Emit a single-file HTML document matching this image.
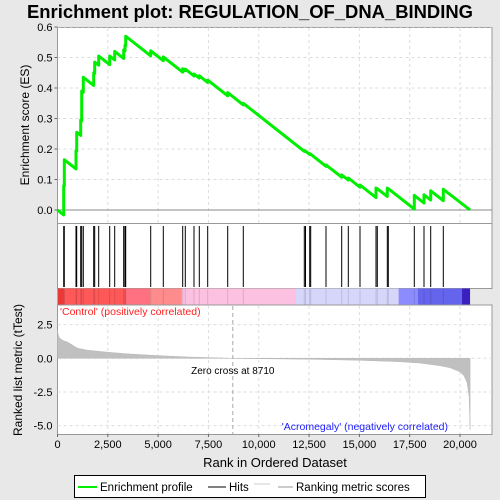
<!DOCTYPE html>
<html><head><meta charset="utf-8"><style>
html,body{margin:0;padding:0;background:#e8e8e8;}
svg{display:block;font-family:"Liberation Sans","DejaVu Sans",sans-serif;}
</style></head><body>
<svg id="chart" width="500" height="500" viewBox="0 0 500 500">
<rect x="0" y="0" width="500" height="500" fill="#e8e8e8"/>
<text x="250" y="18" text-anchor="middle" font-size="18" font-weight="bold" textLength="446" lengthAdjust="spacingAndGlyphs">Enrichment plot: REGULATION_OF_DNA_BINDING</text>
<g id="top"></g>
<g id="hits"></g>
<g id="bar"></g>
<g id="bottom"></g>
<text x="275" y="467" text-anchor="middle" font-size="13">Rank in Ordered Dataset</text>
<text transform="translate(29,125) rotate(-90)" text-anchor="middle" font-size="12">Enrichment score (ES)</text>
<text transform="translate(22,370) rotate(-90)" text-anchor="middle" font-size="12">Ranked list metric (tTest)</text>
<g>
<rect x="74.5" y="475.5" width="351" height="22" fill="#fff" stroke="#000"/>
<line x1="78" y1="487" x2="97" y2="487" stroke="#00ee00" stroke-width="2"/>
<text x="100" y="491" font-size="11.5">Enrichment profile</text>
<line x1="208" y1="487" x2="226" y2="487" stroke="#000" stroke-width="1"/>
<text x="229" y="491" font-size="11.5">Hits</text>
<line x1="254" y1="484" x2="270" y2="484" stroke="#ccc" stroke-width="1"/>
<line x1="278" y1="487" x2="293" y2="487" stroke="#bbb" stroke-width="1.5"/>
<text x="296" y="491" font-size="11.5">Ranking metric scores</text>
</g>
</svg>
<script>
const hitRanks=[308,338,919,954,1153,1203,1282,1799,1848,2047,2594,2842,3289,3354,3389,4631,5257,6221,6350,6783,7046,7463,8457,9232,12263,12323,12532,12581,13342,14122,14450,15031,15826,15891,16388,16437,17729,18211,18544,19170];
const esAfter=[0.08,0.165,0.195,0.255,0.295,0.39,0.435,0.45,0.485,0.505,0.505,0.52,0.525,0.54,0.57,0.522,0.502,0.463,0.462,0.446,0.44,0.426,0.385,0.35,0.195,0.193,0.185,0.183,0.148,0.115,0.105,0.082,0.072,0.07,0.072,0.07,0.048,0.05,0.063,0.068];
const metricRanks=[0,30,100,300,500,1000,1500,2500,3500,5000,6500,8710,10000,12500,15000,17000,18000,19000,19500,20000,20200,20350,20450,20500];
const metricVals=[2.1,1.8,1.5,1.3,1.2,0.75,0.6,0.45,0.33,0.2,0.1,0,-0.03,-0.07,-0.15,-0.25,-0.35,-0.55,-0.7,-1.0,-1.3,-1.8,-2.8,-5.3];
const xTicks=[0,2500,5000,7500,10000,12500,15000,17500,20000];
const xTickLabels=["0","2,500","5,000","7,500","10,000","12,500","15,000","17,500","20,000"];
const esTicks=[0,0.1,0.2,0.3,0.4,0.5,0.6];
const metricTicks=[2.5,0,-2.5,-5];
const metricTickLabels=["2.5","0.0","-2.5","-5.0"];
const totalRanks=20500, zeroCross=8710, esSlope=5.2e-5;

const NS="http://www.w3.org/2000/svg";
const L=57.5,R=492;
const x=r=>L+r*0.020125;
const yTop=v=>210-v*305;
const yBot=v=>358.3-v*13.47;
function mk(parent,tag,attrs){const e=document.createElementNS(NS,tag);for(const k in attrs)e.setAttribute(k,attrs[k]);document.getElementById(parent).appendChild(e);return e;}

let e=mk('top','rect',{x:L,y:27.5,width:R-L,height:196,fill:'#fff',stroke:'#999'});


xTicks.forEach((t,i)=>{if(i>0){let g=mk('top','line',{x1:x(t),x2:x(t),y1:28,y2:223,stroke:'#ddd','stroke-dasharray':'3,3'});

}});
esTicks.forEach(t=>{let g=mk('top','line',{x1:L,x2:R,y1:yTop(t),y2:yTop(t),stroke:t===0?'#888':'#ddd','stroke-dasharray':t===0?'':'3,3'});


let tx=mk('top','text',{x:L-5,y:yTop(t)+4,'text-anchor':'end','font-size':11});tx.textContent=t.toFixed(1);


mk('top','line',{x1:L-3,x2:L,y1:yTop(t),y2:yTop(t),stroke:'#666'});});
let pts=[[0,0]],prevR=0,prevV=0;
hitRanks.forEach((r,i)=>{pts.push([r,prevV-esSlope*(r-prevR)]);pts.push([r,esAfter[i]]);prevR=r;prevV=esAfter[i];});
pts.push([totalRanks,0]);
e=mk('top','polyline',{points:pts.map(p=>x(p[0]).toFixed(1)+','+yTop(p[1]).toFixed(1)).join(' '),fill:'none',stroke:'#00ee00','stroke-width':3,'stroke-linejoin':'round'});



e=mk('hits','rect',{x:L,y:223.5,width:R-L,height:65,fill:'#fff',stroke:'#999'});


hitRanks.forEach(r=>{let h=mk('hits','line',{x1:x(r),x2:x(r),y1:226,y2:287,stroke:'#000','stroke-width':1});

});

const segs=[[0,300,'#e83838'],[300,3400,'#ff5858'],[3400,4600,'#ff7080'],[4600,6180,'#ff8c8c'],[6180,11850,'#fcc0e0'],[11850,16950,'#d6d6fa'],[16950,17900,'#8c8cff'],[17900,20100,'#6464ec'],[20100,20500,'#3a20c0']];
segs.forEach(s=>{let b=mk('bar','rect',{x:x(s[0]),y:288.5,width:x(s[1])-x(s[0]),height:16,fill:s[2]});

});
hitRanks.forEach(r=>{mk('bar','line',{x1:x(r),x2:x(r),y1:289,y2:305,stroke:'rgba(0,0,0,0.12)'});});

e=mk('bottom','rect',{x:L,y:305,width:R-L,height:129.5,fill:'#fff',stroke:'#999'});


xTicks.forEach((t,i)=>{if(i>0)mk('bottom','line',{x1:x(t),x2:x(t),y1:306,y2:434,stroke:'#ddd','stroke-dasharray':'3,3'});
let tx=mk('bottom','text',{x:x(t),y:448,'text-anchor':'middle','font-size':11});tx.textContent=xTickLabels[i];


mk('bottom','line',{x1:x(t),x2:x(t),y1:434,y2:437,stroke:'#666'});});
metricTicks.forEach((t,i)=>{mk('bottom','line',{x1:L,x2:R,y1:yBot(t),y2:yBot(t),stroke:'#ddd','stroke-dasharray':'3,3'});
let tx=mk('bottom','text',{x:L-5,y:yBot(t)+4,'text-anchor':'end','font-size':11});tx.textContent=metricTickLabels[i];

});
let ap='M'+x(0)+','+yBot(0)+' '+metricRanks.map((r,i)=>'L'+x(r).toFixed(1)+','+yBot(metricVals[i]).toFixed(1)).join(' ')+' L'+x(totalRanks)+','+yBot(0)+'Z';
e=mk('bottom','path',{d:ap,fill:'#c0c0c0',stroke:'#b8b8b8','stroke-width':0.5});


e=mk('bottom','line',{x1:x(zeroCross),x2:x(zeroCross),y1:306,y2:434,stroke:'#aaa','stroke-dasharray':'4,3'});


e=mk('bottom','text',{x:x(zeroCross),y:374,'text-anchor':'middle','font-size':10});e.textContent='Zero cross at '+zeroCross;


e=mk('bottom','text',{x:60,y:315,'font-size':10.5,fill:'#ff2020'});e.textContent="'Control' (positively correlated)";


e=mk('bottom','text',{x:448,y:430,'text-anchor':'end','font-size':10.5,fill:'#2020ff'});e.textContent="'Acromegaly' (negatively correlated)";


</script>
</body></html>
